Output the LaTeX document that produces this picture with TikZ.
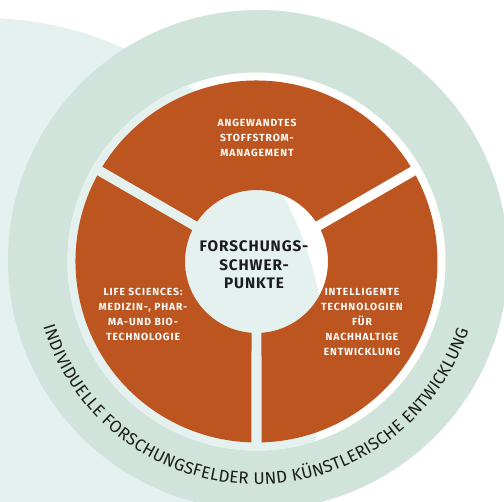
\documentclass[tikz,border=0pt]{standalone}
\usepackage{fontspec}
\setmainfont{Fira Sans}
\newfontfamily\sectorfont[LetterSpace=9]{Fira Sans}
\newfontfamily\hubfont[LetterSpace=6]{Fira Sans}
\usepackage{tikz}
\usetikzlibrary{decorations.text, positioning}

\definecolor{palegreen}{HTML}{E4F1EE}
\definecolor{ringgreen}{HTML}{D0E4DC}
\definecolor{rust}{HTML}{BC5520}
\definecolor{ink}{HTML}{1C1C1C}

\tikzset{
  sector label/.style={text=white, align=center,
    font=\sectorfont\bfseries\fontsize{10.3}{15}\selectfont},
  hub label/.style={text=ink, align=center,
    font=\hubfont\bfseries\fontsize{15.3}{18.7}\selectfont}
}

\begin{document}
\begin{tikzpicture}[x=1pt,y=1pt]
\useasboundingbox (-256.5,-240.5) rectangle (247.5,261.5);
\path coordinate (o) at (0,0)
      coordinate (bg) at (-273.5,-98.5)
      coordinate (rc) at (1.5,1.5);
\fill[palegreen] (bg) circle (342);
\fill[ringgreen] (rc) circle (250);
\fill[white] (o) circle (189);
\begin{scope}
  \clip (o) circle (189);
  \fill[palegreen] (bg) circle (342);
\end{scope}
\foreach \a in {30,150,270}
  \fill[rust] ({\a+1.6}:181) arc[start angle=\a+1.6, end angle=\a+118.4, radius=181]
    -- ({\a+116}:71.5) arc[start angle=\a+116, end angle=\a+4, radius=71.5] -- cycle;

\node[hub label] (hub) at (-2.5,-3.5) {FORSCHUNGS-\\SCHWER-\\PUNKTE};
\node[sector label] (stoff) at (0.5,123.5) {ANGEWANDTES\\STOFFSTROM-\\MANAGEMENT};
\node[sector label] (life) at (-113.5,-53) {LIFE SCIENCES:\\MEDIZIN-, PHAR-\\MA-UND BIO-\\TECHNOLOGIE};
\node[sector label] (tech) at (105.5,-60.5) {INTELLIGENTE\\TECHNOLOGIEN\\FÜR\\NACHHALTIGE\\ENTWICKLUNG};

\path[decorate, decoration={text along path, text align=fit to path, text color=ink,
    text={|\fontsize{17}{17}\selectfont|INDIVIDUELLE FORSCHUNGSFELDER UND KÜNSTLERISCHE ENTWICKLUNG}}]
  (197:223) arc[start angle=197, end angle=342, radius=223];
\end{tikzpicture}
\end{document}
